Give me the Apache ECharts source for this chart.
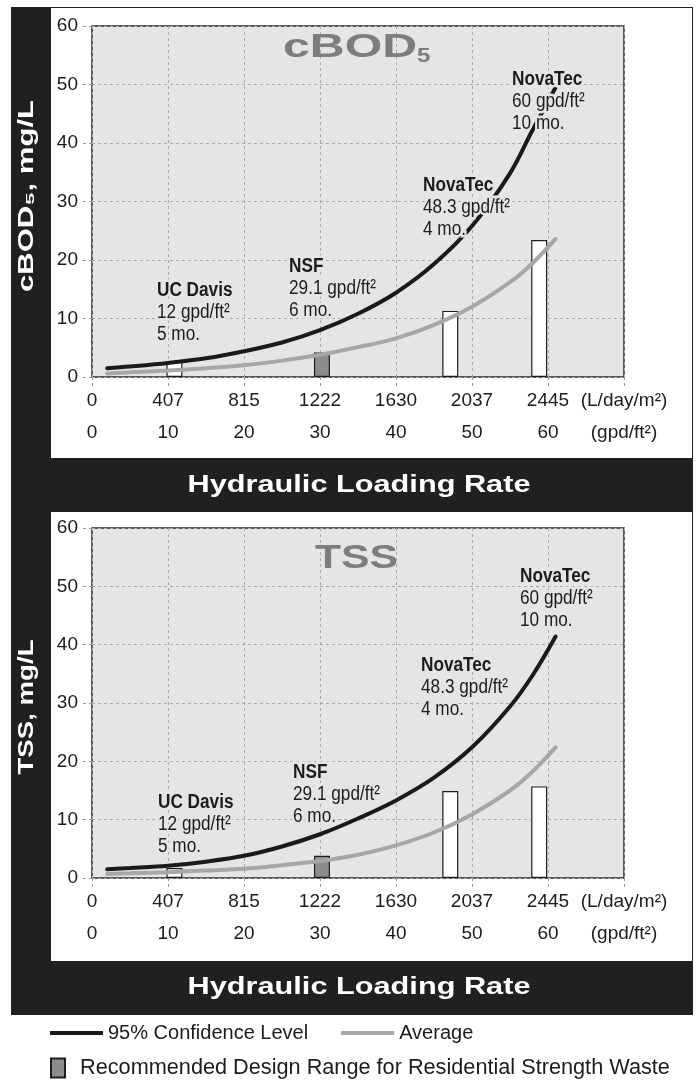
<!DOCTYPE html>
<html><head><meta charset="utf-8">
<script src="https://cdn.jsdelivr.net/npm/echarts@6/dist/echarts.min.js"></script>
<style>html,body{margin:0;padding:0;background:#fff}#c{width:697px;height:1084px}</style>
</head><body><div id="c"></div>
<script>
// ---------------- data ----------------
const curveLoad = [2, 5, 10, 15, 20, 25, 30, 35, 40, 45, 50, 55, 58, 61];      // gpd/ft2
const bod95  = [1.5, 1.8, 2.4, 3.2, 4.4, 5.9, 8.0, 10.8, 14.4, 19.3, 25.8, 34.8, 42.3, 49.5];
const bodAvg = [0.6, 0.8, 1.1, 1.5, 2.0, 2.8, 3.8, 5.1, 6.6, 8.9, 12.0, 16.2, 19.5, 23.6];
const tss95  = [1.5, 1.7, 2.1, 2.8, 3.8, 5.4, 7.5, 10.2, 13.3, 17.2, 22.4, 29.4, 34.8, 41.4];
const tssAvg = [0.7, 0.8, 1.0, 1.3, 1.6, 2.2, 2.9, 4.0, 5.6, 7.8, 10.9, 15.0, 18.3, 22.4];
const siteLoad   = [12, 29.1, 48.3, 60];
const siteNames  = ['UC Davis', 'NSF', 'NovaTec', 'NovaTec'];
const siteMonths = ['5 mo.', '6 mo.', '4 mo.', '10 mo.'];
const siteRecommended = [false, true, false, false];
const bodBars = [2.6, 4.2, 11.3, 23.4];
const tssBars = [1.7, 3.8, 14.9, 15.7];
const lpdTicks = ['0', '407', '815', '1222', '1630', '2037', '2445', '(L/day/m²)'];
const gpdTicks = ['0', '10', '20', '30', '40', '50', '60', '(gpd/ft²)'];
const seriesNames = ['95% Confidence Level', 'Average', 'Recommended Design Range for Residential Strength Waste'];
const panelTitles = ['cBOD', 'TSS'];
const titleSub = '5';
const yNames = ['cBOD₅, mg/L', 'TSS, mg/L'];
const bandTitle = 'Hydraulic Loading Rate';

// ---------------- styling ----------------
const FONT = "'Liberation Sans',Arial,sans-serif";
const PLOT_BG = '#e5e5e7';
const FRAME = '#221f1f';
const INK = '#1c1c1c';
const GRID_LINE = '#ababab';
const mctx = document.createElement('canvas').getContext('2d');
function stretch(text, font, target) { mctx.font = font; return target / mctx.measureText(text).width; }

const chart = echarts.init(document.getElementById('c'), null, {renderer: 'canvas', width: 697, height: 1084});

const gridDefs = [
  {left: 92, top: 26, width: 532, height: 351},
  {left: 92, top: 528, width: 532, height: 350}
];

function xAx(gridIndex, ticks, offset, main) {
  return {
    type: 'value', gridIndex, min: 0, max: 70, interval: 10, position: 'bottom', offset,
    axisLine: {show: false},
    axisTick: {show: main, length: 11, lineStyle: {color: '#9a9a9a', type: [3, 3], width: 1}},
    splitLine: {show: main, lineStyle: {color: GRID_LINE, type: [3, 3], width: 1}},
    axisLabel: {margin: 14, color: INK, fontFamily: FONT, fontSize: 19, showMinLabel: true, showMaxLabel: true,
      formatter: v => ticks[Math.round(v / 10)]}
  };
}
function yAx(gridIndex) {
  return {
    type: 'value', gridIndex, min: 0, max: 60, interval: 10,
    axisLine: {show: false},
    axisTick: {show: true, length: 10, lineStyle: {color: '#9a9a9a', type: [3, 3], width: 1}},
    splitLine: {show: true, lineStyle: {color: GRID_LINE, type: [3, 3], width: 1}},
    axisLabel: {margin: 14, color: INK, fontFamily: FONT, fontSize: 19}
  };
}
function curve(name, ys, color, xi, yi) {
  return {type: 'line', name, xAxisIndex: xi, yAxisIndex: yi,
    data: curveLoad.map((x, i) => [x, ys[i]]), smooth: 0.35, symbol: 'none',
    lineStyle: {color, width: 4, cap: 'round'}, itemStyle: {color}, z: 3, animation: false};
}
function bars(values, rec, xi, yi) {
  const data = [];
  siteLoad.forEach((x, i) => { if (siteRecommended[i] === rec) data.push([x, values[i]]); });
  return {type: 'bar', name: rec ? seriesNames[2] : 'Measured', xAxisIndex: xi, yAxisIndex: yi,
    barWidth: 16, data, z: 2, animation: false,
    itemStyle: {color: rec ? '#8c8c8c' : '#ffffff', borderColor: '#1e1e1e', borderWidth: 1.2}};
}

const annotPos = [
  [[157, 279], [289, 255], [423, 174], [512, 68]],
  [[158, 791], [293, 761], [421, 654], [520, 565]]
];
const ANNOT_SCALE = 0.86;
const LINE_H = 22;
function annot(p, i, out) {
  const [x, y] = annotPos[p][i];
  const lines = [siteNames[i], siteLoad[i] + ' gpd/ft²', siteMonths[i]];
  lines.forEach((t, k) => {
    const font = (k === 0 ? 'bold ' : '') + '20px ' + FONT;
    const base = {type: 'text', x, y: y + LINE_H / 2 + k * LINE_H, scaleX: ANNOT_SCALE};
    out.push(Object.assign({}, base, {z: 48, style: {text: t, font, fill: PLOT_BG, stroke: PLOT_BG, lineWidth: 5,
      align: 'left', verticalAlign: 'middle'}}));
    out.push(Object.assign({}, base, {z: 50, style: {text: t, font, fill: INK, align: 'left', verticalAlign: 'middle'}}));
  });
}

const bandFont = 'bold 23px ' + FONT;
const bandScale = stretch(bandTitle, bandFont, 343);
const yNameFont = 'bold 22px ' + FONT;
const titleFont = 'bold 33px ' + FONT;
const TITLE_GRAY = '#7d7d7f';

const graphics = [
  {type: 'rect', z: -30, shape: {x: 11, y: 7, width: 682, height: 1008}, style: {fill: FRAME}},
  {type: 'rect', z: -29, shape: {x: 51, y: 8, width: 641, height: 450}, style: {fill: '#ffffff'}},
  {type: 'rect', z: -29, shape: {x: 51, y: 512, width: 641, height: 449}, style: {fill: '#ffffff'}},
  {type: 'text', z: 40, x: 359, y: 486, scaleX: bandScale,
    style: {text: bandTitle, font: bandFont, fill: '#ffffff', align: 'center', verticalAlign: 'middle'}},
  {type: 'text', z: 40, x: 359, y: 988, scaleX: bandScale,
    style: {text: bandTitle, font: bandFont, fill: '#ffffff', align: 'center', verticalAlign: 'middle'}},
  {type: 'text', z: 40, x: 27, y: 196, rotation: Math.PI / 2, scaleX: stretch(yNames[0], yNameFont, 192),
    style: {text: yNames[0], font: yNameFont, fill: '#ffffff', align: 'center', verticalAlign: 'middle'}},
  {type: 'text', z: 40, x: 27, y: 707, rotation: Math.PI / 2, scaleX: stretch(yNames[1], yNameFont, 135),
    style: {text: yNames[1], font: yNameFont, fill: '#ffffff', align: 'center', verticalAlign: 'middle'}},
  {type: 'text', z: 40, x: 283, y: 64, scaleX: stretch(panelTitles[0], titleFont, 134),
    style: {text: panelTitles[0], font: titleFont, fill: TITLE_GRAY, align: 'left', verticalAlign: 'bottom'}},
  {type: 'text', z: 40, x: 417, y: 67, scaleX: 1.15,
    style: {text: titleSub, font: 'bold 21px ' + FONT, fill: TITLE_GRAY, align: 'left', verticalAlign: 'bottom'}},
  {type: 'text', z: 40, x: 315, y: 575, scaleX: stretch(panelTitles[1], titleFont, 83),
    style: {text: panelTitles[1], font: titleFont, fill: TITLE_GRAY, align: 'left', verticalAlign: 'bottom'}}
];
for (let p = 0; p < 2; p++) for (let i = 0; i < siteLoad.length; i++) annot(p, i, graphics);

const option = {
  animation: false,
  backgroundColor: '#ffffff',
  grid: gridDefs.map(g => Object.assign({show: true, backgroundColor: PLOT_BG, borderColor: '#2a2a2a', borderWidth: 1.5}, g)),
  xAxis: [xAx(0, lpdTicks, 0, true), xAx(0, gpdTicks, 32, false), xAx(1, lpdTicks, 0, true), xAx(1, gpdTicks, 32, false)],
  yAxis: [yAx(0), yAx(1)],
  legend: [
    {data: [seriesNames[0], seriesNames[1]], left: 50, top: 1023, padding: 0, icon: 'rect', itemWidth: 53, itemHeight: 4, itemGap: 33,
      selectedMode: false, textStyle: {fontFamily: FONT, fontSize: 20, color: INK}},
    {data: [seriesNames[2]], left: 50, top: 1057, padding: 0, icon: 'rect', itemWidth: 14, itemHeight: 19, selectedMode: false,
      textStyle: {fontFamily: FONT, fontSize: 21.7, color: INK, padding: [0, 0, 0, 10]}}
  ],
  series: [
    bars(bodBars, false, 0, 0), bars(bodBars, true, 0, 0),
    curve(seriesNames[1], bodAvg, '#a7a7a9', 0, 0), curve(seriesNames[0], bod95, '#1a1a1a', 0, 0),
    bars(tssBars, false, 2, 1), bars(tssBars, true, 2, 1),
    curve(seriesNames[1], tssAvg, '#a7a7a9', 2, 1), curve(seriesNames[0], tss95, '#1a1a1a', 2, 1)
  ],
  graphic: {elements: graphics}
};
chart.setOption(option);
</script>
</body></html>
